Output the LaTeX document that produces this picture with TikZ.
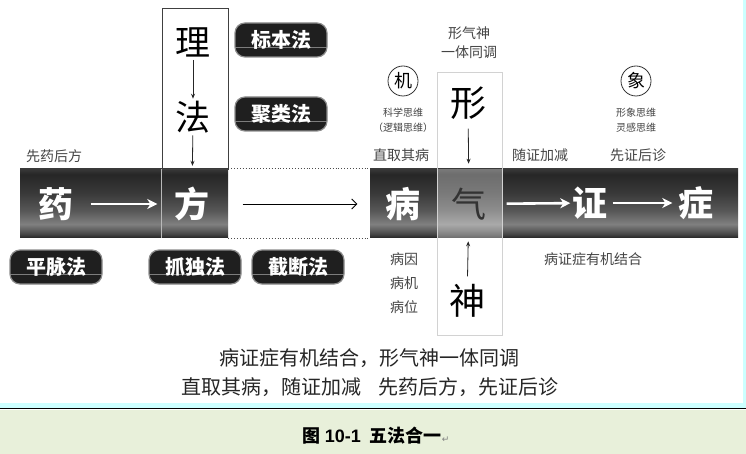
\documentclass[tikz,border=0pt]{standalone}
\usepackage{fontspec}
\setmainfont{Noto Sans CJK SC}
\newfontfamily\capsans{Liberation Sans}
\newfontfamily\symfont{DejaVu Sans}
\usetikzlibrary{arrows.meta}
\newcommand\fsz[1]{\fontsize{#1}{#1}\selectfont}
\definecolor{capbg}{HTML}{E8F0DA}
\definecolor{cyanbd}{HTML}{CCFFFF}
\definecolor{lab}{HTML}{444444}
\pgfdeclareverticalshading{bandshade}{100bp}{rgb(0bp)=(0.14,0.14,0.14); rgb(25bp)=(0.14,0.14,0.14); rgb(28bp)=(0.28,0.28,0.28); rgb(35bp)=(0.50,0.50,0.50); rgb(45bp)=(0.34,0.34,0.34); rgb(58bp)=(0.22,0.22,0.22); rgb(71bp)=(0.15,0.15,0.15); rgb(75bp)=(0.22,0.22,0.22); rgb(100bp)=(0.22,0.22,0.22)}
\tikzset{
  bandbox/.style={shading=bandshade, draw=none, inner sep=0pt, minimum height=69pt},
  pill/.style={draw=black!45, line width=1.2pt, fill=black!88, rounded corners=10pt, text=white,
     font=\fsz{20}\bfseries, minimum width=92pt, minimum height=34pt, inner sep=0pt,
     path picture={\draw[gray!70, line width=0.7pt, opacity=0.7] ([yshift=-7pt]path picture bounding box.west) -- ([yshift=-7pt]path picture bounding box.east);}},
  bigw/.style={text=white, font=\fsz{35}\bfseries, inner sep=0pt},
  bigk/.style={text=black, font=\fsz{36}, inner sep=0pt},
  lbl/.style={text=lab, font=\fsz{14}, inner sep=0pt},
  tiny/.style={text=lab, font=\fsz{10}, inner sep=0pt},
  warr/.style={white, line width=2.6pt, -{Stealth[length=10pt,width=10pt,inset=3pt]}},
  karr/.style={black, line width=0.9pt, -{Straight Barb[length=5pt,width=10pt]}},
  sarr/.style={black!85, line width=0.8pt, -{Stealth[length=5pt,width=4pt]}},
  circ/.style={draw=black!80, line width=0.8pt, circle, minimum size=30pt, inner sep=0pt, font=\fsz{18}},
}
\begin{document}
\begin{tikzpicture}[x=1pt,y=-1pt]
\useasboundingbox (0,0) rectangle (746,454);
% background panels
\fill[cyanbd] (0,0) rectangle (746,408);
\fill[white] (0,0) rectangle (743,403);
\fill[capbg] (0,409.5) rectangle (746,454);
\draw[black, line width=1.4pt] (0,408.6) -- (746,408.6);

% bands
\node[bandbox, minimum width=208pt] (bandL) at (124,203.5) {};
\node[bandbox, minimum width=368pt] (bandR) at (554,203.5) {};
\draw[dotted, line width=0.9pt, black!70] (bandL.north east) -- (bandR.north west);
\draw[dotted, line width=0.9pt, black!70] (bandL.south east) -- (bandR.south west);

% li-fa box
\node[draw=black!75, line width=0.7pt, minimum width=66pt, minimum height=161pt, inner sep=0pt] (lfbox) at (195,88.5) {};
\draw[gray!55, line width=0.6pt] (lfbox.south west) -- (lfbox.south west |- bandL.south);

% xing-shen box
\fill[white, opacity=0.33] (437,169) rectangle (502,238);
\node[draw=gray!35, line width=0.6pt, minimum width=65pt, minimum height=263pt, inner sep=0pt] (xsbox) at (469.5,203.5) {};

% band characters
\node[bigw] (yao) at (56,204) {药};
\node[bigw] (fang) at (192,204) {方};
\node[bigw] (bing) at (403,204) {病};
\node[text=black!80, font=\fsz{35}, inner sep=0pt] (qi) at (469,204) {气};
\node[bigw] (zheng) at (590,203) {证};
\node[bigw] (zheng2) at (696,203) {症};
\draw[warr, shorten <=17pt, shorten >=17pt] (yao) -- (fang);
\draw[karr, shorten <=33pt, shorten >=28pt] (fang) -- (bing);
\draw[warr, shorten <=20pt, shorten >=2pt] (qi) -- (zheng);
\draw[warr, shorten <=5pt, shorten >=6pt] (zheng) -- (zheng2);

% li fa
\node[bigk, font=\fsz{35}] (li) at (193,42) {理};
\node[bigk, font=\fsz{35}] (fa) at (193,117) {法};
\draw[sarr, shorten <=3pt, shorten >=2pt] (li) -- (fa);
\draw[sarr, shorten <=2pt, shorten >=21pt] (fa) -- (fang);

% xing shen
\node[bigk] (xing) at (468,103) {形};
\node[bigk] (shen) at (467,301) {神};
\draw[sarr, shorten <=9pt, shorten >=24pt] (xing) -- (qi);
\draw[sarr, shorten <=8pt, shorten >=21pt] (shen) -- (qi);

% pills
\node[pill] (biaoben) at (281,40) {标本法};
\node[pill] (julei) at (281,114) {聚类法};
\node[pill] (pingmai) at (56,267) {平脉法};
\node[pill] (zhuadu) at (195,267) {抓独法};
\node[pill] (jieduan) at (298,267) {截断法};

% labels
\node[lbl] (xyhf) at (54,156) {先药后方};
\node[lbl] (xqs1) at (469,33) {形气神};
\node[lbl] (xqs2) at (469,52) {一体同调};
\node[circ] (ji) at (403,81) {机};
\node[tiny] (kx) at (403,113) {科学思维};
\node[tiny] (lj) at (403,128) {（逻辑思维）};
\node[lbl] (zqqb) at (401,155) {直取其病};
\node[lbl] (szjj) at (540,155) {随证加减};
\node[lbl] (xzhz) at (638,155) {先证后诊};
\node[circ] (xiang) at (636,81) {象};
\node[tiny] (xx) at (636,113) {形象思维};
\node[tiny] (lg) at (636,128) {灵感思维};
\node[lbl] (by) at (404,259) {病因};
\node[lbl] (bj) at (404,283) {病机};
\node[lbl] (bw) at (404,307) {病位};
\node[lbl] (bzz) at (593,259) {病证症有机结合};

% bottom text
\node[text=black!85, font=\fsz{20}, inner sep=0pt] (t1) at (369,358) {病证症有机结合，形气神一体同调};
\node[text=black!85, font=\fsz{20}, inner sep=0pt] (t2) at (370,387) {直取其病，随证加减\hspace{17pt}先药后方，先证后诊};

% caption
\node[inner sep=0pt, font=\fsz{18}\bfseries] (cap) at (376,436) {图 {\capsans 10-1}\hspace{9pt}五法合一{\symfont\mdseries\fsz{9}\color{gray}↵}};
\end{tikzpicture}
\end{document}
